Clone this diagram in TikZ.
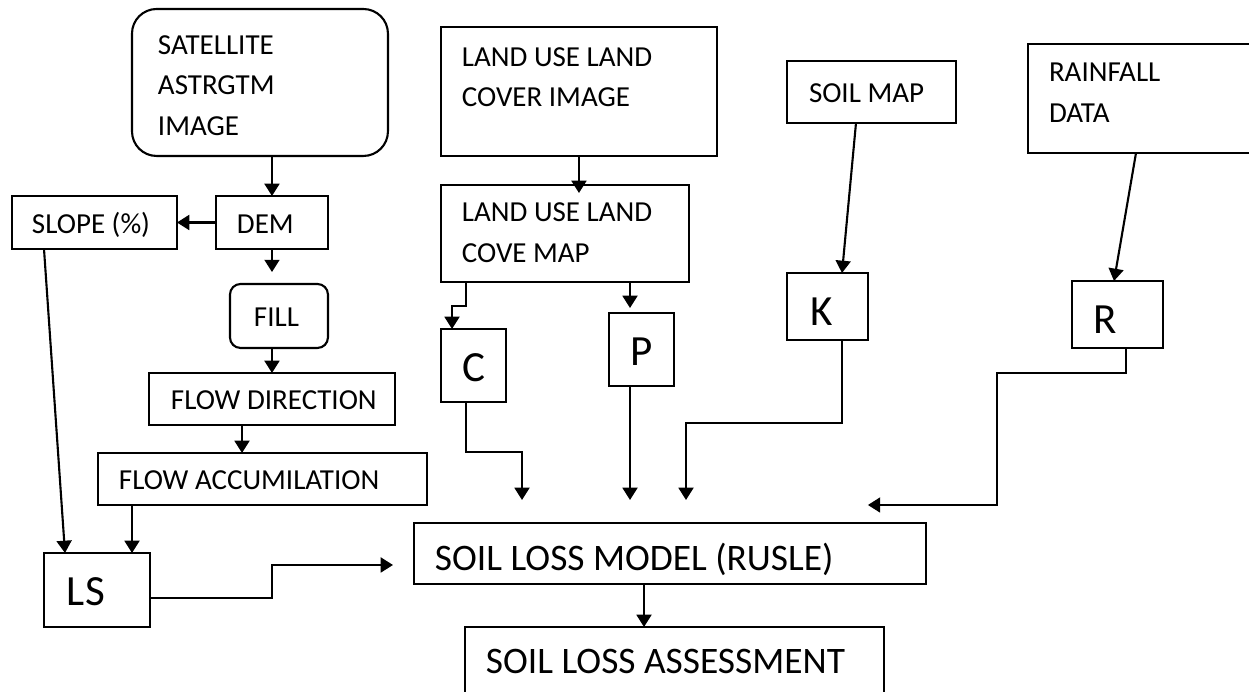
\documentclass[tikz,border=0pt]{standalone}
\usepackage{fontspec}
\setmainfont{Carlito}
\usepackage{tikz}
\usetikzlibrary{positioning}
\usetikzlibrary{arrows.meta}
\usetikzlibrary{calc}
\tikzset{
    mybox/.style = {rectangle, very thick, draw=black, align=flush left, anchor=north west, outer sep=0pt, inner ysep=0pt, font=\fontsize{16.5}{23.2}\selectfont, text=black, text height=12pt, text depth=0pt},
    myboxr/.style = {mybox, rounded corners=14pt},
    myboxf/.style = {mybox, rounded corners=6pt},
    mybig/.style = {mybox, font=\fontsize{24.5}{28}\selectfont, text height=18pt},
    mymodel/.style = {mybox, font=\fontsize{21.3}{25}\selectfont, text height=18.9pt},
    edgea/.style = {-{Triangle[length=7pt,width=8.5pt]}, very thick, black},
}

\begin{document}
\begin{tikzpicture}[x=0.02cm, y=-0.02cm]
  \useasboundingbox (0,0) rectangle (1249,692);
  \clip (0,0) rectangle (1249,692);
  % DEM side
  \node[myboxr, minimum width=5.12cm, minimum height=2.94cm, inner xsep=0.52cm, text width=4.08cm, text height=14pt, text depth=46.4pt] (sat) at (132,9) {SATELLITE\\ASTRGTM\\IMAGE};
  \node[mybox, minimum width=2.24cm, minimum height=1.06cm, inner xsep=0.42cm, text width=1.40cm] (dem) at (216,196) {DEM};
  \node[mybox, minimum width=3.30cm, minimum height=1.06cm, inner xsep=0.40cm, text width=2.50cm] (slope) at (12,196) {SLOPE (\%)};
  \node[myboxf, minimum width=1.96cm, minimum height=1.28cm, inner xsep=0.48cm, text width=1.00cm] (fill) at (230,284) {FILL};
  \node[mybox, minimum width=4.92cm, minimum height=1.04cm, inner xsep=0.44cm, text width=4.04cm] (fdir) at (149,373) {\mbox{FLOW DIRECTION}};
  \node[mybox, minimum width=6.58cm, minimum height=1.04cm, inner xsep=0.42cm, text width=5.74cm] (facc) at (98,453) {FLOW ACCUMILATION};
  \node[mybig, minimum width=2.12cm, minimum height=1.48cm, inner xsep=0.46cm, text width=1.20cm] (ls) at (44,553) {LS};
  % land use side
  \node[mybox, minimum width=5.52cm, minimum height=2.58cm, inner xsep=0.42cm, text width=4.68cm, text height=10.1pt, text depth=39.1pt] (lulci) at (441,27) {LAND USE LAND\\COVER IMAGE};
  \node[mybox, minimum width=4.96cm, minimum height=1.94cm, inner xsep=0.42cm, text width=4.12cm, text height=10.1pt, text depth=23.2pt] (lulcm) at (441,185) {LAND USE LAND\\COVE MAP};
  \node[mybig, minimum width=1.30cm, minimum height=1.46cm] (c) at (441,329) {C};
  \node[mybig, minimum width=1.30cm, minimum height=1.46cm] (p) at (609,313) {P};
  % soil and rain
  \node[mybox, minimum width=3.38cm, minimum height=1.24cm, inner xsep=0.44cm, text width=2.50cm] (soil) at (787,61) {SOIL MAP};
  \node[mybig, minimum width=1.62cm, minimum height=1.34cm, inner xsep=0.46cm, text width=0.70cm, text height=21.7pt] (k) at (787,273) {K};
  \node[mybox, minimum width=5.00cm, minimum height=2.18cm, inner xsep=0.42cm, text width=4.16cm, text height=10.1pt, text depth=28.9pt] (rain) at (1028,44) {RAINFALL\\DATA};
  \node[mybig, minimum width=1.82cm, minimum height=1.34cm, inner xsep=0.42cm, text width=0.98cm, text height=21.7pt] (r) at (1072,281) {R};
  % model
  \node[mymodel, minimum width=10.24cm, minimum height=1.22cm, inner xsep=0.42cm, text width=9.40cm] (model) at (414,523) {SOIL LOSS MODEL (RUSLE)};
  \node[mymodel, minimum width=8.38cm, minimum height=1.40cm, inner xsep=0.42cm, text width=7.54cm, text height=13.3pt] (assess) at (465,627) {SOIL LOSS ASSESSMENT};

  \draw[edgea] (sat.south -| dem.north) -- (dem.north);
  \draw[edgea] (dem.west) -- (slope.east);
  \draw[edgea, shorten >=6.8pt] (dem.south) -- (dem.south |- fill.north);
  \draw[edgea] (dem.south |- fill.south) -- (dem.south |- fdir.north);
  \draw[edgea] ($(fdir.south west)+(93,0)$) -- ($(fdir.south west |- facc.north)+(93,0)$);
  \draw[edgea] ($(facc.south west)+(34,0)$) -- ($(ls.north west)+(88,0)$);
  \draw[edgea] ($(slope.south west)+(32,0)$) -- ($(ls.north west)+(21,0)$);
  \draw[edgea] ($(ls.south east)+(0,-29)$) -- ++(122,0) |- ($(model.west)+(-21,11.5)$);
  \draw[edgea] (lulci.south) -- ($(lulci.south |- lulcm.north)+(0,8)$);
  \draw[edgea] ($(lulcm.south west)+(25,0)$) -- ++(0,24) -| ($(c.north west)+(11,0)$);
  \draw[edgea] ($(lulcm.south west)+(189,0)$) -- ($(p.north west)+(21,-5)$);
  \draw[edgea] ($(c.south west)+(25,0)$) -- ++(0,50) -| ($(model.north west)+(108,-23)$);
  \draw[edgea] ($(p.south west)+(21,0)$) -- ($(model.north west)+(216,-23)$);
  \draw[edgea] ($(soil.south west)+(69,0)$) -- ($(k.north west)+(55,0)$);
  \draw[edgea] ($(k.south west)+(55,0)$) -- ++(0,83) -| ($(model.north west)+(272,-23)$);
  \draw[edgea] ($(rain.south west)+(108,0)$) -- ($(r.north west)+(42,0)$);
  \draw[edgea] ($(r.south west)+(54,0)$) -- ++(0,25) -| ($(model.north east)+(71,-18)$) -- ($(model.north east)+(-58,-18)$);
  \draw[edgea] ($(model.south west)+(230,0)$) -- ($(assess.north west)+(179,0)$);
\end{tikzpicture}
\end{document}
